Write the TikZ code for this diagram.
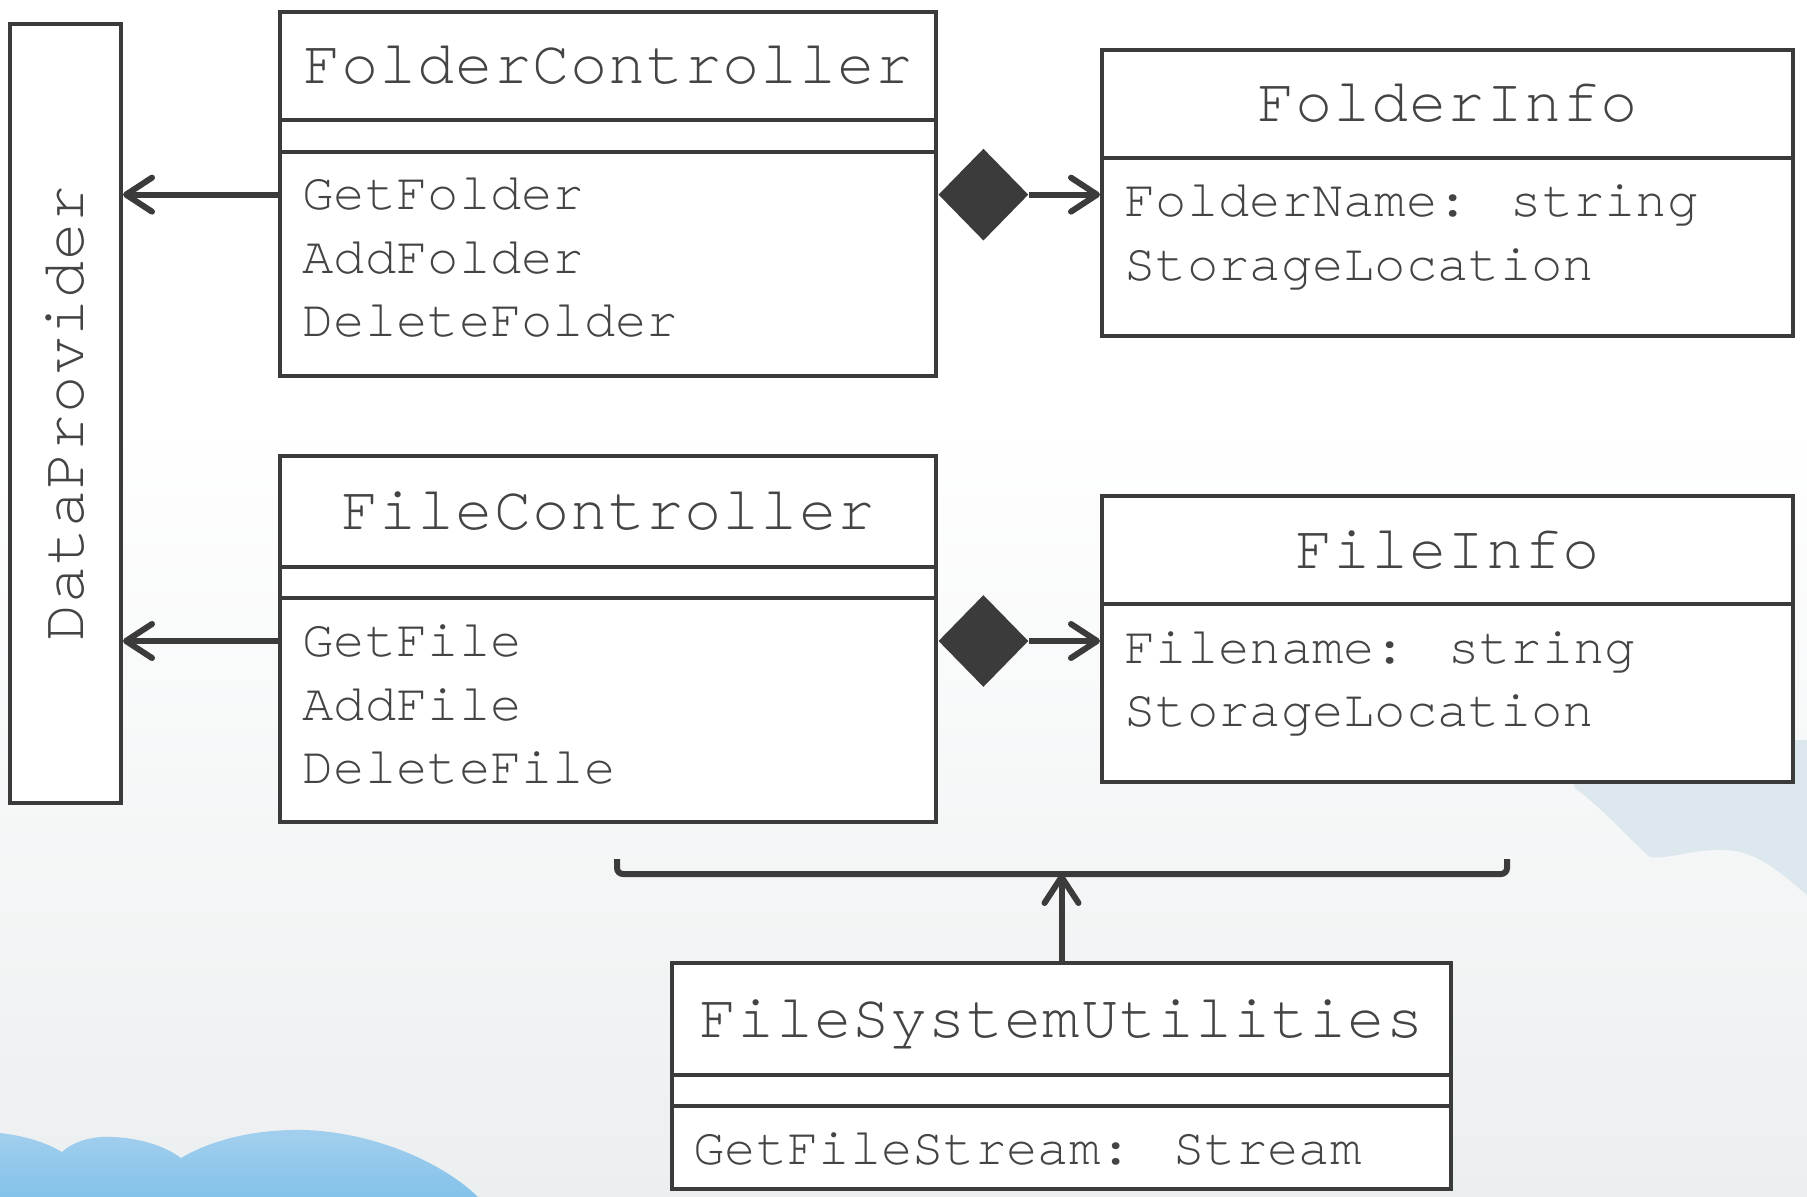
\documentclass[tikz,border=0pt]{standalone}
\usepackage{fontspec}
\newfontfamily\membfont{TeX Gyre Cursor}
\newfontfamily\headfont[LetterSpace=1.5]{TeX Gyre Cursor}
\usetikzlibrary{arrows.meta,shapes.geometric}
\definecolor{ink}{HTML}{3B3B3B}
\definecolor{txt}{HTML}{444444}
\definecolor{bgbottom}{HTML}{ECEFF0}
\definecolor{mist}{HTML}{DCE7EE}
\definecolor{cloudtop}{HTML}{A3CFEE}
\definecolor{cloudbot}{HTML}{84C2EA}
\begin{document}
\begin{tikzpicture}[x=0.5pt,y=-0.5pt,
  classbox/.style={rectangle, draw=ink, line width=2pt, fill=white, inner sep=0pt},
  divider/.style={draw=ink, line width=2pt},
  headfnt/.style={font=\headfont\fontsize{31pt}{36pt}\selectfont, text=txt, inner sep=0pt},
  title/.style={headfnt, anchor=base},
  member/.style={font=\membfont\fontsize{26.1pt}{32pt}\selectfont, text=txt, inner sep=0pt, anchor=base west},
  conn/.style={draw=ink, line width=3pt},
  opentip/.style={conn, -{Straight Barb[length=13pt,width=17pt,round]}},
  compose/.style={diamond, fill=ink, inner sep=0pt, minimum width=45pt, minimum height=46pt, anchor=west},
]
\useasboundingbox (0,0) rectangle (1807,1197);

% sky backdrop
\fill[white] (0,0) rectangle (1807,1197);
\shade[top color=white, bottom color=bgbottom] (0,420) rectangle (1807,1197);
\fill[mist] (1555,740) -- (1807,740) -- (1807,895) .. controls (1780,872) and (1760,855) .. (1735,851)
  .. controls (1700,846) and (1670,860) .. (1650,857) .. controls (1630,840) and (1610,815) .. (1575,788) -- cycle;
\shade[top color=cloudtop, bottom color=cloudbot]
  (0,1133) .. controls (25,1136) and (45,1142) .. (62,1152)
  .. controls (75,1140) and (95,1136) .. (112,1137)
  .. controls (140,1138) and (165,1146) .. (181,1158)
  .. controls (215,1138) and (260,1129) .. (304,1130)
  .. controls (370,1132) and (440,1160) .. (478,1197) -- (0,1197) -- cycle;

% DataProvider
\node[classbox, minimum width=55.5pt, minimum height=389.5pt] (dp) at (65.5,413.5) {};
\node[headfnt, rotate=90] (dpt) at (dp.center) {DataProvider};

% FolderController
\node[classbox, minimum width=328pt, minimum height=182pt] (fc) at (608,194) {};
\draw[divider] (fc.west |- 0,120) -- (fc.east |- 0,120);
\draw[divider] (fc.west |- 0,152) -- (fc.east |- 0,152);
\node[title] (fct) at (608,84) {FolderController};
\node[member] (fc1) at (302,210) {GetFolder};
\node[member] (fc2) at (302,273.5) {AddFolder};
\node[member] (fc3) at (302,337) {DeleteFolder};

% FolderInfo
\node[classbox, minimum width=345.5pt, minimum height=143pt] (fi) at (1447.5,193) {};
\draw[divider] (fi.west |- 0,158) -- (fi.east |- 0,158);
\node[title] (fit) at (1447.5,122) {FolderInfo};
\node[member] (fi1) at (1124,217) {FolderName: string};
\node[member] (fi2) at (1124,280.5) {StorageLocation};

% FileController
\node[classbox, minimum width=328pt, minimum height=183pt] (flc) at (608,639) {};
\draw[divider] (flc.west |- 0,567) -- (flc.east |- 0,567);
\draw[divider] (flc.west |- 0,598) -- (flc.east |- 0,598);
\node[title] (flct) at (608,529.5) {FileController};
\node[member] (flc1) at (302,656.5) {GetFile};
\node[member] (flc2) at (302,720) {AddFile};
\node[member] (flc3) at (302,783.5) {DeleteFile};

% FileInfo
\node[classbox, minimum width=345.5pt, minimum height=143pt] (fli) at (1447.5,639) {};
\draw[divider] (fli.west |- 0,604) -- (fli.east |- 0,604);
\node[title] (flit) at (1447.5,568) {FileInfo};
\node[member] (fli1) at (1124,663) {Filename: string};
\node[member] (fli2) at (1124,726.5) {StorageLocation};

% FileSystemUtilities
\node[classbox, minimum width=389.5pt, minimum height=113pt] (fsu) at (1061.5,1076) {};
\draw[divider] (fsu.west |- 0,1075) -- (fsu.east |- 0,1075);
\draw[divider] (fsu.west |- 0,1106) -- (fsu.east |- 0,1106);
\node[title] (fsut) at (1061.5,1037) {FileSystemUtilities};
\node[member] (fsu1) at (693,1164) {GetFileStream: Stream};

% dependencies on DataProvider
\draw[opentip] (fc.west |- fc1.west) -- (dp.east |- fc1.west);
\draw[opentip] (flc.west |- flc1.west) -- (dp.east |- flc1.west);

% compositions
\node[compose] (fcd) at (fc.east |- fc1.west) {};
\draw[opentip] (fcd.east) -- (fi.west |- fcd.east);
\node[compose] (flcd) at (flc.east |- flc1.west) {};
\draw[opentip] (flcd.east) -- (fli.west |- flcd.east);

% FileSystemUtilities serves both controllers
\coordinate (brL) at (617,859);
\coordinate (brR) at (1507,859);
\coordinate (brM) at (fsu.north |- 0,874);
\draw[conn, rounded corners=3pt] (brL) -- (brL |- brM) -- (brR |- brM) -- (brR);
\draw[opentip] (fsu.north) -- (brM);
\end{tikzpicture}
\end{document}
